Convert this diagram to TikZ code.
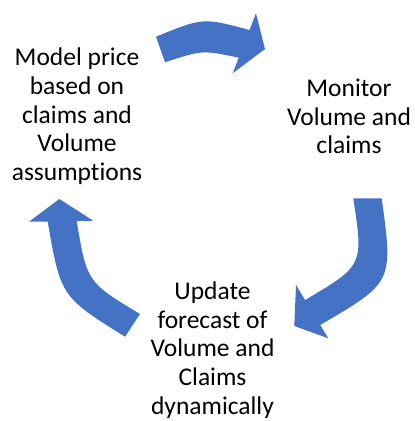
\documentclass[tikz,border=0pt]{standalone}
\usepackage{fontspec}
\setmainfont{Carlito}[Ligatures=NoCommon]
\begin{document}
\begin{tikzpicture}[x=1pt,y=-1pt,
  cyclabel/.style={align=center,inner sep=0pt,font=\fontsize{25.5}{28.75}\selectfont},
  cycarrow/.style={fill=arrcol}]

  \definecolor{arrcol}{HTML}{4472C4}

  \useasboundingbox (0,0) rectangle (415,421);

  \node[cyclabel] (model) at (77,116.3) {Model price\\based on\\claims and\\Volume\\assumptions};
  \node[cyclabel] (monitor) at (349,116.5) {Monitor\\Volume and\\claims};
  \node[cyclabel] (update) at (212.5,350) {Update\\forecast of\\Volume and\\Claims\\dynamically};

  % model -> monitor
  \fill[cycarrow]
  (156,36.7) .. controls (203,17.5) .. (249.5,30) --
  (256,13.3) -- (265,49) -- (232.7,73.3) --
  (238.8,57.7) .. controls (202.5,50) .. (165,62.3) -- cycle;

  % monitor -> update
  \fill[cycarrow]
  (353.3,198.3) -- (381.7,198.3) .. controls (393.2,282.3) .. (320.2,325) --
  (328.3,338.3) -- (294.3,326) -- (296,285) --
  (305.1,300) .. controls (363.5,265.5) .. (353.3,198.3) -- cycle;

  % update -> model
  \fill[cycarrow]
  (59.3,199) -- (93.3,220.7) --
  (76.7,221) .. controls (86.9,282.1) .. (140,314) --
  (125,336.7) .. controls (60.7,296.5) .. (47.7,221.5) --
  (29,221.7) -- cycle;

\end{tikzpicture}
\end{document}
